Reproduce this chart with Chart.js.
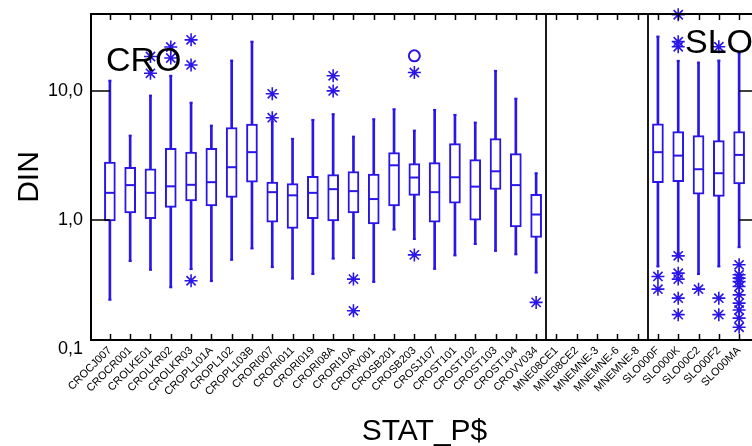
<!DOCTYPE html>
<html>
<head>
<meta charset="utf-8">
<script src="https://cdn.jsdelivr.net/npm/chart.js@4.4.0/dist/chart.umd.min.js"></script>
<style>
  html, body { margin: 0; padding: 0; background: #fff; overflow: hidden; }
  #wrap { width: 790px; height: 446px; }
</style>
</head>
<body>
<div id="wrap"><canvas id="boxChart"></canvas></div>
<script>
// Stations (x categories) and their groups
const categories = [
    'CROCJ007', 'CROCR001', 'CROLKE01', 'CROLKR02', 'CROLKR03', 'CROPL101A', 'CROPL102', 'CROPL103B',
    'CRORI007', 'CRORI011', 'CRORI019', 'CRORI08A', 'CRORI10A', 'CRORV001', 'CROSB201', 'CROSB203',
    'CROSJ107', 'CROST101', 'CROST102', 'CROST103', 'CROST104', 'CROVV034',
    'MNE08CE1', 'MNE08CE2', 'MNEMNE-3', 'MNEMNE-6', 'MNEMNE-8',
    'SLO000F', 'SLO000K', 'SLO00C2', 'SLO00F2', 'SLO00MA'
];
const groupNames = ['CRO', 'MNE', 'SLO'];
const groupSizes = [22, 5, 5];

// Box plot statistics (DIN), null = no data
const whiskerLow = [0.24, 0.48, 0.41, 0.30, 0.415, 0.335, 0.49, 0.60, 0.43, 0.35, 0.38, 0.50, 0.505, 0.33, 0.84, 0.71,
    0.417, 0.53, 0.65, 0.575, 0.54, 0.39, null, null, null, null, null, 0.435, 0.55, 0.38, 0.435, 0.614];
const q1 = [0.98, 1.13, 1.02, 1.25, 1.40, 1.28, 1.49, 1.96, 0.96, 0.86, 1.02, 0.98, 1.13, 0.93, 1.28, 1.55,
    0.96, 1.35, 0.995, 1.72, 0.88, 0.73, null, null, null, null, null, 1.94, 1.98, 1.58, 1.52, 1.90];
const median = [1.62, 1.86, 1.62, 1.82, 1.87, 1.96, 2.56, 3.35, 1.64, 1.55, 1.62, 1.73, 1.67, 1.45, 2.65, 2.13,
    1.64, 2.14, 1.81, 2.38, 1.86, 1.10, null, null, null, null, null, 3.35, 3.15, 2.47, 2.30, 3.19];
const q3 = [2.80, 2.56, 2.49, 3.59, 3.35, 3.59, 5.20, 5.52, 1.96, 1.91, 2.18, 2.24, 2.37, 2.26, 3.32, 2.73,
    2.78, 3.90, 2.93, 4.27, 3.26, 1.58, null, null, null, null, null, 5.55, 4.84, 4.50, 4.12, 4.84];
const whiskerHigh = [12.0, 4.5, 9.2, 13.1, 8.1, 5.38, 17.2, 24.1, 5.8, 4.25, 5.96, 6.6, 4.42, 6.03, 7.21, 4.92,
    7.12, 6.52, 5.68, 14.3, 8.71, 2.30, null, null, null, null, null, 26.4, 17.1, 16.6, 17.2, 19.6];

// Outliers as [category index, value]
const outliers = [
    [2, 18.5], [2, 13.7], [3, 21.9], [3, 18.0], [4, 24.9], [4, 15.9], [4, 0.337],
    [8, 9.5], [8, 6.2], [11, 13.1], [11, 10.0], [12, 0.347], [12, 0.197],
    [15, 13.9], [15, 0.535], [21, 0.229],
    [27, 0.364], [27, 0.290],
    [28, 39.0], [28, 24.1], [28, 22.0], [28, 0.526], [28, 0.386], [28, 0.347], [28, 0.247], [28, 0.184],
    [29, 0.290], [30, 22.0], [30, 0.247], [30, 0.184],
    [31, 0.448], [31, 0.375], [31, 0.353], [31, 0.332], [31, 0.304], [31, 0.262], [31, 0.226], [31, 0.200],
    [31, 0.173], [31, 0.147]
];
const farOutliers = [[15, 18.7]];

// Y axis
const yMin = 0.117;
const yMax = 39.5;
const yTicks = [0.1, 1, 10];
const yTickLabels = ['0,1', '1,0', '10,0'];

const BLUE = '#2a16e6';
const FONT = '"Liberation Sans", Arial, sans-serif';

// build points from the arrays
const idx = categories.map((c, i) => i).filter(i => median[i] !== null);
const boxData = idx.map(i => ({ x: i, y: [q1[i], q3[i]] }));
const whiskerData = idx.map(i => ({ x: i, y: [whiskerLow[i], whiskerHigh[i]] }));
const capData = idx.flatMap(i => [{ x: i, y: whiskerLow[i] }, { x: i, y: whiskerHigh[i] }]);
const medianData = idx.map(i => ({ x: i, y: median[i] }));
const outlierData = outliers.map(o => ({ x: o[0], y: o[1] }));
const farData = farOutliers.map(o => ({ x: o[0], y: o[1] }));

// Frame, inward ticks, group separators and group labels
const framePlugin = {
    id: 'frame',
    afterDatasetsDraw(chart) {
        const { ctx, chartArea: a, scales: { x, y } } = chart;
        ctx.save();
        ctx.strokeStyle = '#000';
        ctx.lineWidth = 2;
        ctx.strokeRect(a.left, a.top, a.right - a.left, a.bottom - a.top);

        ctx.lineWidth = 1.5;
        ctx.beginPath();
        categories.forEach((c, i) => {
            const px = Math.round(x.getPixelForValue(i)) + 0.5;
            ctx.moveTo(px, a.top); ctx.lineTo(px, a.top + 6);
            ctx.moveTo(px, a.bottom); ctx.lineTo(px, a.bottom - 6);
        });
        [1, 10].forEach(v => {
            const py = Math.round(y.getPixelForValue(v));
            ctx.moveTo(a.left, py); ctx.lineTo(a.left + 19, py);
            ctx.moveTo(a.right, py); ctx.lineTo(a.right - 19, py);
        });
        ctx.stroke();

        // separators between groups
        ctx.lineWidth = 1.8;
        ctx.beginPath();
        let count = 0;
        groupSizes.slice(0, -1).forEach(n => {
            count += n;
            const px = Math.round(x.getPixelForValue(count - 0.5));
            ctx.moveTo(px, a.top); ctx.lineTo(px, a.bottom);
        });
        ctx.stroke();

        ctx.fillStyle = '#000';
        ctx.font = '34px ' + FONT;
        ctx.textBaseline = 'alphabetic';
        ctx.fillText(groupNames[0], 106, 71);
        ctx.fillText(groupNames[2], 685, 53);
        ctx.restore();
    }
};

const ctx = document.getElementById('boxChart');
new Chart(ctx, {
    type: 'bar',
    data: {
        datasets: [
            {
                label: 'whisker',
                data: whiskerData,
                backgroundColor: BLUE,
                borderWidth: 0,
                barThickness: 2,
                grouped: false,
                order: 3
            },
            {
                label: 'box',
                data: boxData,
                backgroundColor: '#ffffff',
                borderColor: BLUE,
                borderWidth: 2,
                borderSkipped: false,
                barThickness: 11,
                grouped: false,
                order: 2
            },
            {
                type: 'scatter',
                label: 'median',
                data: medianData,
                pointStyle: 'line',
                pointRadius: 5,
                borderColor: BLUE,
                borderWidth: 2,
                order: 1
            },
            {
                type: 'scatter',
                label: 'caps',
                data: capData,
                pointStyle: 'line',
                pointRadius: 1.5,
                borderColor: BLUE,
                borderWidth: 2,
                order: 1
            },
            {
                type: 'scatter',
                label: 'outliers',
                data: outlierData,
                pointStyle: 'star',
                pointRadius: 6.5,
                borderColor: BLUE,
                borderWidth: 1.6,
                clip: false,
                order: 1
            },
            {
                type: 'scatter',
                label: 'far outliers',
                data: farData,
                pointStyle: 'circle',
                pointRadius: 5.5,
                backgroundColor: 'rgba(0,0,0,0)',
                borderColor: BLUE,
                borderWidth: 2,
                clip: false,
                order: 1
            }
        ]
    },
    options: {
        responsive: true,
        maintainAspectRatio: false,
        animation: false,
        layout: { padding: { left: 0, top: 14, right: 32, bottom: 0 } },
        plugins: {
            legend: { display: false },
            tooltip: { enabled: false }
        },
        scales: {
            x: {
                type: 'linear',
                offset: false,
                min: -0.93,
                max: categories.length - 1 + 0.93,
                grid: { display: false, drawTicks: false, offset: false },
                border: { display: false },
                afterBuildTicks: scale => {
                    scale.ticks = categories.map((c, i) => ({ value: i }));
                },
                afterFit: scale => {
                    scale.height = 106;
                    scale.paddingLeft = 0;
                    scale.paddingRight = 0;
                },
                ticks: {
                    autoSkip: false,
                    minRotation: 45,
                    maxRotation: 45,
                    padding: 4,
                    color: '#000',
                    font: { family: FONT, size: 11 },
                    callback: value => categories[value]
                },
                title: {
                    display: true,
                    text: 'STAT_P$',
                    color: '#000',
                    font: { family: FONT, size: 30 },
                    padding: { top: 0, bottom: -4 }
                }
            },
            y: {
                type: 'logarithmic',
                min: yMin,
                max: yMax,
                grid: { display: false, drawTicks: false },
                border: { display: false },
                afterBuildTicks: scale => {
                    scale.ticks = yTicks.map(v => ({ value: v }));
                },
                afterFit: scale => {
                    scale.width = 91;
                    scale.paddingTop = 0;
                    scale.paddingBottom = 0;
                },
                ticks: {
                    padding: 8,
                    color: '#000',
                    font: { family: FONT, size: 18 },
                    callback: value => yTickLabels[yTicks.indexOf(value)]
                },
                title: {
                    display: true,
                    text: 'DIN',
                    color: '#000',
                    font: { family: FONT, size: 30 },
                    padding: { top: 12, bottom: 0 }
                }
            }
        }
    },
    plugins: [framePlugin]
});
</script>
</body>
</html>
